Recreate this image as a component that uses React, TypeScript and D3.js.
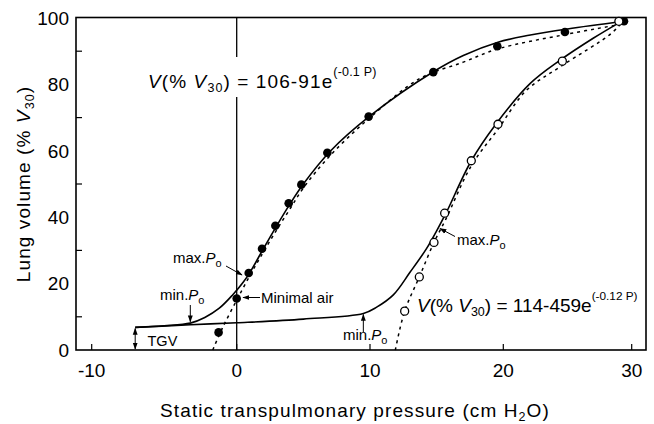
import React from "react";
import * as d3 from "d3";

// ---- data ----
const xTicks = [-10, 0, 10, 20, 30];
const yTicks = [0, 20, 40, 60, 80, 100];
const yMinorTicks = [10, 30, 50, 70, 90];

// deflation (filled) measured points
const deflP = [-1.25, 0, 0.9, 1.9, 2.9, 3.9, 4.85, 6.8, 9.9, 14.75, 19.55, 24.8, 29.4];
const deflV = [5.3, 15.5, 23.2, 30.5, 37.4, 44.2, 49.8, 59.4, 70.3, 83.7, 91.5, 95.8, 99.0];

// inflation (open) measured points
const inflP = [12.6, 13.7, 14.8, 15.6, 17.6, 19.6, 24.6, 29.0];
const inflV = [11.7, 22.0, 32.4, 41.2, 57.0, 68.0, 87.0, 99.0];

// solid deflation curve
const deflCurveP = [-7, -5, -3.2, -2.2, -1.2, -0.3, 0.5, 1, 2, 3, 4, 5, 7, 10, 14.75, 17, 19.6, 22, 25, 29.4];
const deflCurveV = [6.8, 7.3, 8.1, 9.8, 12.6, 16.5, 20.5, 23.4, 30.5, 37.4, 44, 50, 59.8, 70.5, 83.8, 88.7, 92.7, 94.8, 96.7, 99];

// solid inflation curve
const inflCurveP = [-7, -3.2, 0, 5, 9.5, 10.5, 11.75, 13, 14.25, 15, 15.7, 17.6, 19.4, 22.1, 24.5, 27, 29.2];
const inflCurveV = [6.8, 7.6, 8.2, 9.3, 11.0, 12.9, 16.6, 23.4, 30.6, 35.9, 41.2, 57, 67.8, 80.3, 87.5, 93.9, 99];

// dashed fit curves
const deflFitP = [-1.65, -1, 0, 1, 2, 3, 4, 5, 7, 10, 13.75, 17, 19.6, 24.8, 29];
const deflFitV = [0, 6.5, 15, 22.5, 29.5, 36.2, 42.5, 48.8, 58.5, 70, 81.8, 86.7, 90.7, 95.0, 98];
const inflFitP = [11.9, 12.6, 13.7, 14.8, 15.7, 17.6, 19.6, 21.8, 24.6, 28.4, 29.2];
const inflFitV = [0, 11.7, 22, 32.4, 39.5, 55.5, 66.5, 78.2, 85.7, 95.3, 98.5];

const FONT = "'Liberation Sans', Arial, Helvetica, sans-serif";

export default function App() {
  const W = 654, H = 424;
  const left = 76, right = 646, top = 17.5, bottom = 350;

  const x = d3.scaleLinear().domain([-10, 0, 10, 20, 30]).range([91.7, 236.7, 370, 503.3, 631.7]);
  const y = d3.scaleLinear().domain([0, 100]).range([bottom, 18]);

  const line = d3
    .line<[number, number]>()
    .x((d) => x(d[0]))
    .y((d) => y(d[1]))
    .curve(d3.curveCatmullRom.alpha(0.5));

  const zip = (a: number[], b: number[]) => a.map((v, i) => [v, b[i]] as [number, number]);

  const tickLen = 6;

  return (
    <svg width={W} height={H} style={{ position: "absolute", left: 0, top: 0, background: "#fff" }} fontFamily={FONT}>
      <defs>
        <marker id="ah" viewBox="0 0 10 10" refX="9" refY="5" markerWidth="7" markerHeight="7" orient="auto-start-reverse" markerUnits="userSpaceOnUse">
          <path d="M0,1.5 L10,5 L0,8.5 z" fill="#000" />
        </marker>
      </defs>
      <rect x={0} y={0} width={W} height={H} fill="#fff" />

      {/* vertical line at P = 0 */}
      <line x1={x(0)} x2={x(0)} y1={top} y2={bottom} stroke="#000" strokeWidth={1.3} />

      {/* equation 1 with white background */}
      <rect x={143} y={57} width={236} height={40} fill="#fff" />
      <text x={148} y={88} fontSize={19} letterSpacing={1.1} fill="#000">
        <tspan fontStyle="italic">V</tspan>
        <tspan>(% </tspan>
        <tspan fontStyle="italic">V</tspan>
        <tspan fontSize={12.5} dy={4}>30</tspan>
        <tspan dy={-4}>) = 106-91e</tspan>
        <tspan fontSize={12.5} dy={-12} letterSpacing={0.2}>(-0.1 P)</tspan>
      </text>

      {/* frame */}
      <rect x={left} y={top} width={right - left} height={bottom - top} fill="none" stroke="#000" strokeWidth={1.6} />

      {/* y ticks (minor only visible) */}
      {yMinorTicks.map((t) => (
        <line key={"ym" + t} x1={left} x2={left + tickLen} y1={y(t)} y2={y(t)} stroke="#000" strokeWidth={1.2} />
      ))}
      {yTicks.map((t) => (
        <text key={"yl" + t} x={69} y={y(t) + 6.7} fontSize={19} textAnchor="end" fill="#000">
          {t}
        </text>
      ))}

      {/* x ticks */}
      {xTicks.map((t) => (
        <line key={"xt" + t} x1={x(t)} x2={x(t)} y1={bottom} y2={bottom - tickLen} stroke="#000" strokeWidth={1.2} />
      ))}
      {xTicks.map((t) => (
        <text key={"xl" + t} x={x(t)} y={377} fontSize={19} textAnchor="middle" fill="#000">
          {t}
        </text>
      ))}

      {/* axis titles */}
      <text x={355} y={417} fontSize={19} textAnchor="middle" letterSpacing={1.1} fill="#000">
        Static transpulmonary pressure (cm H
        <tspan fontSize={12.5} dy={4}>2</tspan>
        <tspan dy={-4}>O)</tspan>
      </text>
      <text transform={`translate(30,184) rotate(-90)`} fontSize={19} textAnchor="middle" letterSpacing={1.1} fill="#000">
        Lung volume (%{" "}
        <tspan fontStyle="italic">V</tspan>
        <tspan fontSize={12.5} dy={4}>30</tspan>
        <tspan dy={-4}>)</tspan>
      </text>

      {/* curves */}
      <path d={line(zip(inflCurveP, inflCurveV)) || ""} fill="none" stroke="#000" strokeWidth={1.6} />
      <path d={line(zip(deflCurveP, deflCurveV)) || ""} fill="none" stroke="#000" strokeWidth={1.6} />
      <path d={line(zip(deflFitP, deflFitV)) || ""} fill="none" stroke="#000" strokeWidth={1.5} strokeDasharray="3,4" />
      <path d={line(zip(inflFitP, inflFitV)) || ""} fill="none" stroke="#000" strokeWidth={1.5} strokeDasharray="3,4" />

      {/* points */}
      {deflP.map((p, i) => (
        <circle key={"d" + i} cx={x(p)} cy={y(deflV[i])} r={4.3} fill="#000" />
      ))}
      {inflP.map((p, i) => (
        <circle key={"i" + i} cx={x(p)} cy={y(inflV[i])} r={4} fill="#fff" stroke="#000" strokeWidth={1.3} />
      ))}

      {/* equation 2 */}
      <text x={417} y={311.5} fontSize={19} letterSpacing={0} fill="#000">
        <tspan fontStyle="italic">V</tspan>
        <tspan>(% </tspan>
        <tspan fontStyle="italic">V</tspan>
        <tspan fontSize={12.5} dy={4}>30</tspan>
        <tspan dy={-4}>) = 114-459e</tspan>
        <tspan fontSize={11.8} dy={-12}>(-0.12 P)</tspan>
      </text>

      {/* annotations */}
      {/* left max.Po */}
      <text x={173} y={263} fontSize={15} fill="#000">
        max.<tspan fontStyle="italic">P</tspan>
        <tspan fontSize={11} dy={4}>o</tspan>
      </text>
      <line x1={226} y1={266} x2={242} y2={275} stroke="#000" strokeWidth={1} markerEnd="url(#ah)" />

      {/* left min.Po */}
      <text x={160} y={300} fontSize={15} fill="#000">
        min.<tspan fontStyle="italic">P</tspan>
        <tspan fontSize={11} dy={4}>o</tspan>
      </text>
      <line x1={x(-3.2)} y1={305} x2={x(-3.2)} y2={y(8.2) - 1} stroke="#000" strokeWidth={1} markerEnd="url(#ah)" />

      {/* Minimal air */}
      <line x1={260} y1={297.5} x2={243} y2={297.5} stroke="#000" strokeWidth={1} markerEnd="url(#ah)" />
      <text x={261} y={303} fontSize={15} fill="#000">
        Minimal air
      </text>

      {/* TGV */}
      <line x1={x(-7)} y1={y(6.8) + 1} x2={x(-7)} y2={bottom - 1} stroke="#000" strokeWidth={1} markerStart="url(#ah)" markerEnd="url(#ah)" />
      <text x={147.5} y={345.5} fontSize={14.5} fill="#000">
        TGV
      </text>

      {/* right max.Po */}
      <line x1={455} y1={236.5} x2={440} y2={228.5} stroke="#000" strokeWidth={1} markerEnd="url(#ah)" />
      <text x={457} y={245} fontSize={15} fill="#000">
        max.<tspan fontStyle="italic">P</tspan>
        <tspan fontSize={11} dy={4}>o</tspan>
      </text>

      {/* right min.Po */}
      <line x1={x(9.5)} y1={332} x2={x(9.5)} y2={y(11) + 1} stroke="#000" strokeWidth={1} markerEnd="url(#ah)" />
      <text x={343} y={340} fontSize={15} fill="#000">
        min.<tspan fontStyle="italic">P</tspan>
        <tspan fontSize={11} dy={4}>o</tspan>
      </text>
    </svg>
  );
}
